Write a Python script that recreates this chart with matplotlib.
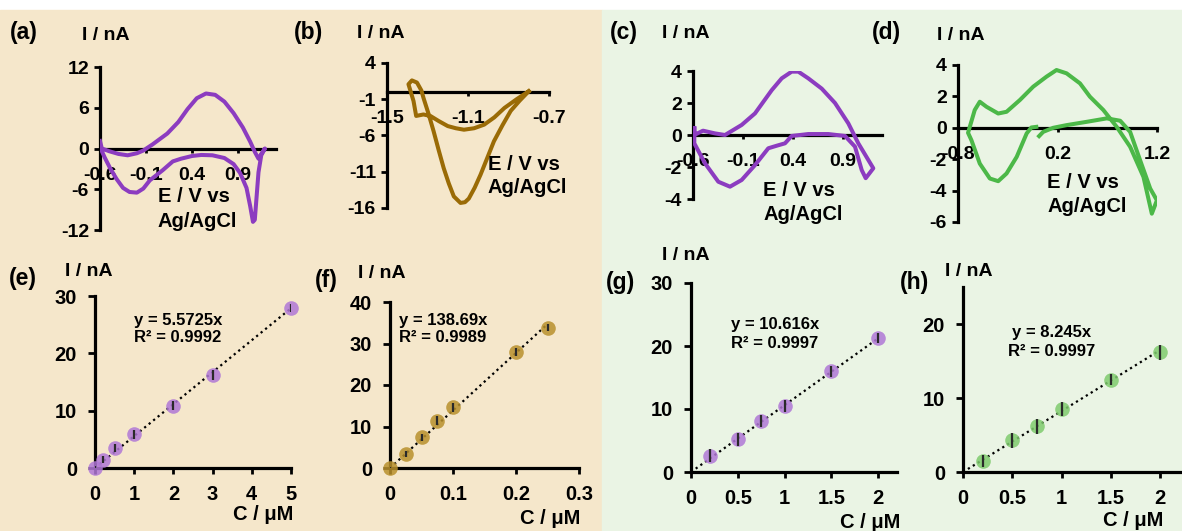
import matplotlib
matplotlib.use("Agg")
import matplotlib.pyplot as plt
from matplotlib.patches import Rectangle

plt.rcParams['font.family'] = ['Liberation Sans', 'DejaVu Sans']
plt.rcParams['font.weight'] = 'bold'

W, H = 1182, 531

# ---- cyclic voltammograms ----
a_E = [-0.6, -0.58, -0.5, -0.40, -0.30, -0.2, -0.13, -0.03, 0.13, 0.25, 0.35, 0.45, 0.55,
       0.65, 0.75, 0.85, 0.95, 1.03, 1.08, 1.12, 1.15, 1.19, 1.15, 1.12, 1.10, 1.08, 1.06,
       1.03, 0.99, 0.92, 0.85, 0.75, 0.62, 0.50, 0.40, 0.28, 0.19, 0.08, -0.06, -0.13,
       -0.20, -0.28, -0.35, -0.42, -0.49, -0.55, -0.6]
a_I = [1.1, 0.0, -0.4, -0.8, -1.0, -0.7, -0.3, 0.6, 2.2, 3.9, 5.8, 7.4, 8.1,
       7.9, 6.9, 5.2, 3.1, 1.0, -0.5, -1.5, -0.8, 0.0, -1.0, -3.5, -7.0, -10.5, -10.8,
       -8.5, -5.8, -3.6, -2.3, -1.4, -1.0, -0.95, -1.1, -1.5, -1.9, -3.2, -4.7, -5.9,
       -6.5, -6.4, -5.8, -4.5, -2.9, -1.3, 0.2]

b_E = [-0.80, -0.86, -0.92, -0.97, -1.02, -1.07, -1.12, -1.16, -1.20, -1.245, -1.286,
       -1.32, -1.356, -1.369, -1.394, -1.377, -1.352, -1.33, -1.32, -1.295, -1.27, -1.245,
       -1.22, -1.195, -1.17, -1.137, -1.115, -1.096, -1.067, -1.038, -1.005, -0.972,
       -0.93, -0.889, -0.845, -0.80]
b_I = [0.1, -1.0, -2.2, -3.5, -4.5, -5.0, -5.2, -5.0, -4.7, -4.0, -3.3,
       -3.1, -3.3, -1.25, 1.07, 1.6, 1.3, 0.2, -0.8, -3.0, -5.4, -8.0,
       -10.5, -12.6, -14.4, -15.3, -15.2, -14.7, -13.2, -11.4, -9.1, -6.8,
       -4.6, -2.6, -1.2, 0.1]

c_E = [-0.587, -0.587, -0.5, -0.38, -0.28, -0.113, 0.02, 0.187, 0.287, 0.387, 0.453,
       0.553, 0.687, 0.82, 0.953, 1.053, 1.203, 1.127, 1.087, 1.02, 0.92, 0.753, 0.553,
       0.387, 0.32, 0.237, 0.153, 0.02, -0.113, -0.23, -0.347, -0.48, -0.587, -0.587]
c_I = [0.42, 0.0, 0.27, 0.1, 0.0, 0.63, 1.35, 2.8, 3.54, 3.96, 3.96,
       3.54, 2.9, 2.0, 0.73, -0.52, -2.08, -2.7, -2.19, -0.73, -0.06, 0.06, 0.06,
       -0.06, -0.52, -0.67, -0.83, -1.88, -2.81, -3.23, -2.92, -1.77, -0.52, 0.42]

d_E = [-0.013, -0.063, -0.11, -0.21, -0.312, -0.396, -0.48, -0.581, -0.665, -0.699,
       -0.632, -0.581, -0.514, -0.396, -0.312, -0.178, -0.044, 0.09, 0.19, 0.291, 0.426,
       0.526, 0.661, 0.795, 0.93, 1.064, 1.148, 1.199, 1.132, 1.03, 0.93, 0.83, 0.695,
       0.493, 0.291, 0.157, 0.056, 0.015]
d_I = [0.06, 0.02, -0.36, -1.85, -2.91, -3.4, -3.23, -2.28, -0.79, -0.32,
       1.13, 1.66, 1.34, 0.91, 1.02, 1.77, 2.62, 3.26, 3.68, 3.47, 2.83,
       1.98, 1.13, 0.06, -1.21, -3.13, -5.47, -4.62, -3.87, -2.06, -0.26, 0.45, 0.6,
       0.38, 0.17, 0.0, -0.26, -0.53]

# ---- calibration data ----
e_conc = [0, 0.2, 0.5, 1, 2, 3, 5]
e_curr = [0, 1.45, 3.5, 5.9, 10.9, 16.2, 27.9]
e_err = [0.3, 0.6, 0.7, 0.8, 0.7, 0.9, 0.7]
e_slope = 5.5725

f_conc = [0, 0.025, 0.05, 0.075, 0.1, 0.2, 0.25]
f_curr = [0, 3.4, 7.4, 11.4, 14.6, 28.0, 33.8]
f_err = [0.3, 0.7, 0.9, 1.1, 1.1, 0.9, 0.9]
f_slope = 138.69

g_conc = [0.2, 0.5, 0.75, 1, 1.5, 2]
g_curr = [2.6, 5.2, 8.1, 10.5, 16.0, 21.3]
g_err = [1.0, 1.0, 1.0, 1.0, 0.9, 0.8]
g_slope = 10.616

h_conc = [0.2, 0.5, 0.75, 1, 1.5, 2]
h_curr = [1.5, 4.3, 6.2, 8.5, 12.5, 16.2]
h_err = [0.8, 1.0, 1.0, 0.9, 0.8, 1.0]
h_slope = 8.245

purple = '#8C3CC0'
brown = '#9A6B06'
green = '#4CB848'

fig = plt.figure(figsize=(W / 100, H / 100), dpi=100)
fig.patches.append(Rectangle((0, 0), 602 / W, 1 - 10 / H, transform=fig.transFigure,
                             color='#F5E7CB', zorder=-10))
fig.patches.append(Rectangle((602 / W, 0), 1 - 602 / W, 1 - 10 / H, transform=fig.transFigure,
                             color='#EAF4E4', zorder=-10))


def add_ax(l, r, t, b):
    ax = fig.add_axes([l / W, 1 - b / H, (r - l) / W, (b - t) / H])
    ax.set_facecolor('none')
    ax.spines['top'].set_visible(False)
    ax.spines['right'].set_visible(False)
    ax.spines['left'].set_linewidth(2.3)
    ax.spines['bottom'].set_linewidth(2.3)
    return ax


def ftext(x, y, s, size=13, ha='left'):
    fig.text(x / W, 1 - y / H, s, ha=ha, va='center', fontsize=size, fontweight='bold')


def cv_panel(rect, E, I, col, xlim, ylim, xt, yt):
    ax = add_ax(*rect)
    ax.plot(E, I, color=col, lw=2.9, solid_joinstyle='round', zorder=3)
    ax.set_xlim(xlim)
    ax.set_ylim(ylim)
    ax.spines['bottom'].set_position(('data', 0))
    ax.set_xticks(xt)
    ax.set_xticklabels([f'{v:g}' for v in xt])
    ax.set_yticks(yt)
    ax.set_yticklabels([f'{v:g}' for v in yt])
    ax.tick_params(axis='x', direction='out', length=3, width=2, pad=10, labelsize=14)
    ax.tick_params(axis='y', direction='out', length=4, width=2, pad=4, labelsize=14)
    return ax


def cal_panel(rect, conc, curr, err, slope, mcol, xlim, ylim, xt, yt, xtl):
    ax = add_ax(*rect)
    ax.plot([0, conc[-1]], [0, slope * conc[-1]], color='black', lw=1.6,
            ls=(0, (1, 1.6)), zorder=2)
    ax.plot(conc, curr, 'o', ms=10.5, color=mcol, mec='none', alpha=0.85, zorder=3,
            clip_on=False)
    ax.errorbar(conc, curr, yerr=err, fmt='none', ecolor='#2a2a2a', elinewidth=1.6,
                capsize=0, zorder=4)
    ax.set_xlim(xlim)
    ax.set_ylim(ylim)
    ax.set_xticks(xt)
    ax.set_xticklabels(xtl)
    ax.set_yticks(yt)
    ax.tick_params(axis='x', direction='out', length=4, width=2, pad=8, labelsize=14.5)
    ax.tick_params(axis='y', direction='out', length=5, width=2, pad=8, labelsize=14.5)
    return ax


# top row
cv_panel((100, 276, 67, 230), a_E, a_I, purple, (-0.6, 1.31), (-12, 12),
         [-0.6, -0.1, 0.4, 0.9], [-12, -6, 0, 6, 12])
cv_panel((387, 549, 63, 208), b_E, b_I, brown, (-1.5, -0.7), (-16, 4),
         [-1.5, -1.1, -0.7], [-16, -11, -6, -1, 4])
cv_panel((693, 882, 71, 199), c_E, c_I, purple, (-0.6, 1.29), (-4, 4),
         [-0.6, -0.1, 0.4, 0.9], [-4, -2, 0, 2, 4])
cv_panel((958, 1157, 65, 222), d_E, d_I, green, (-0.8, 1.2), (-6, 4),
         [-0.8, 0.2, 1.2], [-6, -4, -2, 0, 2, 4])

# bottom row
cal_panel((95, 291, 296, 468), e_conc, e_curr, e_err, e_slope, '#B078D6',
          (0, 5), (0, 30), [0, 1, 2, 3, 4, 5], [0, 10, 20, 30],
          ['0', '1', '2', '3', '4', '5'])
cal_panel((390, 579, 302, 468), f_conc, f_curr, f_err, f_slope, '#B8902C',
          (0, 0.3), (0, 40), [0, 0.1, 0.2, 0.3], [0, 10, 20, 30, 40],
          ['0', '0.1', '0.2', '0.3'])
cal_panel((691, 897, 283, 472), g_conc, g_curr, g_err, g_slope, '#B078D6',
          (0, 2.2), (0, 30), [0, 0.5, 1, 1.5, 2], [0, 10, 20, 30],
          ['0', '0.5', '1', '1.5', '2'])
cal_panel((963, 1180, 287, 472), h_conc, h_curr, h_err, h_slope, '#7FCB6E',
          (0, 2.2), (0, 25), [0, 0.5, 1, 1.5, 2], [0, 10, 20],
          ['0', '0.5', '1', '1.5', '2'])

# panel letters and axis titles
for x, y, s in [(10, 33, '(a)'), (294, 33, '(b)'), (610, 33, '(c)'), (872, 33, '(d)'),
                (9, 279, '(e)'), (315, 281, '(f)'), (606, 283, '(g)'), (900, 282, '(h)')]:
    ftext(x, y, s, size=16.5)

for x, y in [(82, 35), (357, 33), (662, 33), (937, 35),
             (65, 271), (358, 273), (662, 256), (945, 272)]:
    ftext(x, y, 'I / nA', size=14)

for x, y1, y2 in [(158, 197, 222), (488, 165, 188), (763, 190, 214), (1047, 183, 206)]:
    ftext(x, y1, 'E / V vs', size=14.5)
    ftext(x, y2, 'Ag/AgCl', size=14.5)

for x, y in [(293, 514), (580, 518), (900, 523), (1163, 520)]:
    ftext(x, y, 'C / μM', size=14.5, ha='right')

ftext(178, 320, 'y = 5.5725x', size=12, ha='center')
ftext(178, 337, 'R² = 0.9992', size=12, ha='center')
ftext(399, 320, 'y = 138.69x', size=12)
ftext(399, 338, 'R² = 0.9989', size=12)
ftext(775, 325, 'y = 10.616x', size=12, ha='center')
ftext(775, 344, 'R² = 0.9997', size=12, ha='center')
ftext(1052, 332, 'y = 8.245x', size=12, ha='center')
ftext(1052, 351, 'R² = 0.9997', size=12, ha='center')

fig.savefig('out.png', dpi=100)
